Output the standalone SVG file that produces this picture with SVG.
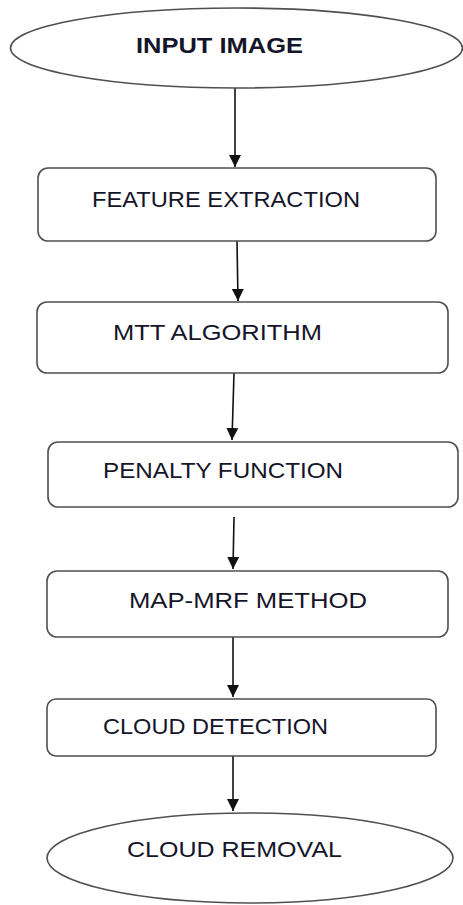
<svg xmlns="http://www.w3.org/2000/svg" width="463" height="905" viewBox="0 0 463 905">
<style>
.shape{fill:#fff;stroke:#505050;stroke-width:1.6}
.lbl{font-family:"Liberation Sans",Arial,sans-serif;font-size:22px;fill:#15152a}
.b{font-weight:bold}
.conn{stroke:#111;stroke-width:1.6;fill:none}
</style>
<defs>
<marker id="ah" markerWidth="12" markerHeight="14" refX="12" refY="6" orient="auto" markerUnits="userSpaceOnUse" viewBox="0 0 12 12">
<path d="M0,0 L12,6 L0,12 Z" fill="#111"/>
</marker>
</defs>
<rect width="463" height="905" fill="#fff"/>
<g id="connectors">
<line class="conn" x1="235" y1="88" x2="235" y2="167" marker-end="url(#ah)"/>
<line class="conn" x1="237" y1="241" x2="238" y2="301" marker-end="url(#ah)"/>
<line class="conn" x1="234" y1="373" x2="232" y2="440" marker-end="url(#ah)"/>
<line class="conn" x1="234" y1="517" x2="233" y2="569" marker-end="url(#ah)"/>
<line class="conn" x1="233" y1="637" x2="233" y2="697" marker-end="url(#ah)"/>
<line class="conn" x1="233" y1="756" x2="233" y2="811" marker-end="url(#ah)"/>
</g>
<g id="input-image">
<ellipse class="shape" cx="236.5" cy="48" rx="226" ry="40"/>
<text class="lbl b" x="136" y="53" textLength="167" lengthAdjust="spacingAndGlyphs">INPUT IMAGE</text>
</g>
<g id="feature-extraction">
<rect class="shape" x="38" y="168" width="398" height="73" rx="10"/>
<text class="lbl" x="92" y="207" textLength="268" lengthAdjust="spacingAndGlyphs">FEATURE EXTRACTION</text>
</g>
<g id="mtt-algorithm">
<rect class="shape" x="37" y="302" width="411" height="71" rx="10"/>
<text class="lbl" x="113" y="340" textLength="209" lengthAdjust="spacingAndGlyphs">MTT ALGORITHM</text>
</g>
<g id="penalty-function">
<rect class="shape" x="48" y="442" width="410" height="65" rx="10"/>
<text class="lbl" x="103" y="478" textLength="240" lengthAdjust="spacingAndGlyphs">PENALTY FUNCTION</text>
</g>
<g id="map-mrf-method">
<rect class="shape" x="47" y="571" width="401" height="66" rx="10"/>
<text class="lbl" x="129" y="608" textLength="238" lengthAdjust="spacingAndGlyphs">MAP-MRF METHOD</text>
</g>
<g id="cloud-detection">
<rect class="shape" x="47" y="699" width="389" height="57" rx="9"/>
<text class="lbl" x="103" y="734" textLength="225" lengthAdjust="spacingAndGlyphs">CLOUD DETECTION</text>
</g>
<g id="cloud-removal">
<ellipse class="shape" cx="250" cy="858" rx="203" ry="45"/>
<text class="lbl" x="127" y="857" textLength="215" lengthAdjust="spacingAndGlyphs">CLOUD REMOVAL</text>
</g>
</svg>
